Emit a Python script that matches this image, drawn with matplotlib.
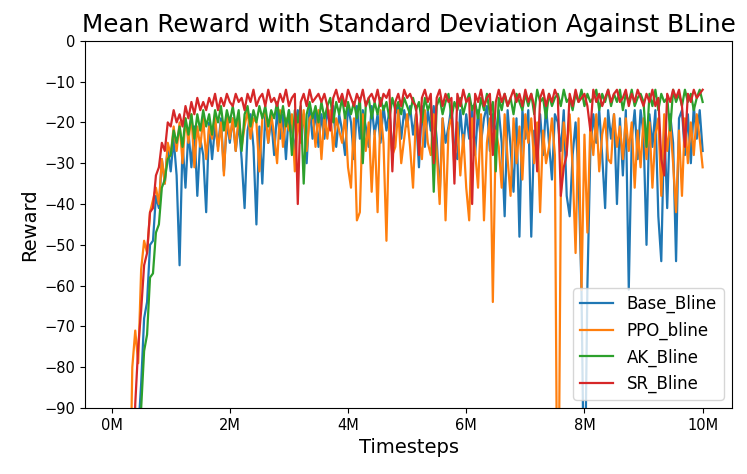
import numpy as np
import matplotlib

matplotlib.use("Agg")
import matplotlib.pyplot as plt  # noqa: E402

# timesteps in millions, one sample every 50k steps
timesteps_m = [round(0.05 * (i + 1), 2) for i in range(200)]

base_bline = [
    -290, -262, -236, -210, -185, -160, -135, -112, -96, -84,
    -68, -64, -50, -49, -38, -41, -29, -35, -26, -32,
    -24, -33, -55, -25, -36, -22, -31, -21, -38, -24,
    -28, -42, -20, -29, -21, -26, -19, -32, -20, -25,
    -19, -27, -20, -29, -41, -22, -18, -26, -45, -21,
    -35, -18, -25, -19, -28, -17, -24, -18, -29, -17,
    -22, -27, -17, -23, -18, -30, -16, -24, -17, -26,
    -18, -24, -17, -21, -16, -26, -18, -22, -28, -16,
    -20, -29, -16, -24, -17, -21, -26, -16, -23, -18,
    -25, -16, -22, -17, -28, -18, -16, -24, -17, -21,
    -16, -23, -18, -31, -16, -26, -17, -22, -16, -24,
    -38, -19, -25, -21, -16, -27, -29, -17, -26, -18,
    -24, -16, -28, -17, -25, -19, -16, -27, -18, -23,
    -17, -25, -43, -17, -26, -37, -19, -48, -17, -24,
    -17, -48, -22, -30, -18, -28, -16, -25, -34, -18,
    -20, -27, -17, -38, -43, -28, -20, -33, -61, -120,
    -60, -27, -18, -25, -17, -28, -41, -17, -24, -18,
    -40, -19, -33, -17, -61, -24, -17, -29, -17, -23,
    -50, -18, -26, -17, -43, -54, -20, -41, -18, -25,
    -54, -19, -17, -28, -18, -30, -16, -24, -17, -27,
]

ppo_bline = [
    -260, -232, -205, -178, -150, -122, -80, -71, -79, -56,
    -49, -52, -42, -39, -36, -40, -29, -35, -25, -28,
    -21, -27, -20, -30, -19, -25, -18, -31, -21, -26,
    -19, -29, -21, -24, -18, -27, -20, -33, -18, -24,
    -19, -27, -18, -26, -21, -17, -24, -19, -20, -32,
    -19, -17, -25, -18, -23, -30, -17, -26, -19, -22,
    -18, -32, -19, -25, -17, -27, -19, -18, -26, -17,
    -29, -18, -24, -17, -27, -19, -22, -25, -18, -31,
    -36, -19, -44, -42, -18, -27, -20, -37, -22, -42,
    -17, -25, -49, -19, -28, -26, -17, -30, -24, -18,
    -26, -36, -18, -24, -29, -17, -25, -28, -18, -27,
    -40, -19, -44, -22, -18, -31, -20, -33, -23, -36,
    -44, -19, -27, -36, -18, -44, -25, -19, -64, -22,
    -26, -36, -18, -29, -38, -19, -30, -21, -34, -18,
    -25, -19, -30, -20, -42, -22, -30, -26, -19, -28,
    -140, -38, -20, -27, -18, -31, -52, -19, -61, -23,
    -47, -20, -28, -18, -32, -23, -19, -29, -30, -18,
    -26, -21, -29, -19, -27, -20, -36, -22, -31, -19,
    -29, -20, -36, -23, -19, -38, -18, -27, -20, -30,
    -42, -22, -38, -19, -30, -20, -28, -18, -24, -31,
]

ak_bline = [
    -300, -272, -245, -218, -190, -162, -136, -115, -99, -90,
    -76, -72, -58, -57, -47, -45, -36, -34, -29, -28,
    -22, -25, -21, -26, -19, -23, -18, -24, -18, -22,
    -17, -21, -18, -23, -17, -20, -16, -22, -17, -20,
    -16, -21, -17, -27, -18, -16, -21, -17, -20, -16,
    -19, -16, -21, -17, -19, -15, -20, -16, -21, -17,
    -28, -17, -20, -16, -35, -18, -15, -19, -16, -20,
    -15, -19, -16, -14, -20, -15, -18, -14, -19, -15,
    -18, -15, -19, -14, -30, -16, -14, -19, -15, -18,
    -14, -17, -15, -19, -14, -17, -15, -18, -14, -16,
    -18, -14, -17, -15, -20, -14, -17, -15, -37, -16,
    -14, -18, -15, -13, -19, -15, -17, -14, -18, -15,
    -13, -17, -15, -19, -14, -17, -13, -18, -15, -32,
    -14, -17, -13, -16, -14, -18, -13, -15, -17, -13,
    -16, -13, -18, -12, -15, -14, -19, -13, -16, -14,
    -13, -16, -12, -15, -14, -17, -13, -15, -12, -16,
    -13, -15, -14, -12, -17, -13, -15, -12, -16, -13,
    -15, -12, -17, -13, -15, -12, -16, -14, -13, -15,
    -26, -13, -16, -12, -17, -13, -15, -14, -22, -12,
    -15, -13, -16, -12, -15, -13, -17, -14, -12, -15,
]

sr_bline = [
    -285, -255, -228, -200, -172, -145, -118, -89, -75, -66,
    -55, -52, -42, -41, -33, -31, -25, -27, -20, -21,
    -17, -20, -18, -21, -16, -19, -15, -18, -14, -17,
    -15, -17, -14, -16, -13, -17, -14, -16, -13, -15,
    -16, -13, -15, -14, -17, -13, -15, -12, -16, -14,
    -13, -16, -12, -15, -14, -16, -13, -15, -12, -16,
    -14, -13, -40, -15, -13, -16, -12, -15, -14, -13,
    -15, -13, -16, -22, -14, -12, -15, -13, -16, -12,
    -14, -16, -13, -15, -12, -16, -14, -13, -15, -12,
    -16, -13, -14, -12, -32, -15, -13, -16, -12, -14,
    -13, -15, -16, -28, -14, -12, -15, -13, -30, -14,
    -12, -16, -13, -15, -14, -35, -13, -16, -12, -15,
    -14, -40, -13, -15, -12, -16, -14, -13, -28, -15,
    -12, -15, -13, -16, -14, -12, -15, -13, -16, -12,
    -15, -13, -16, -32, -14, -12, -16, -13, -15, -12,
    -14, -38, -31, -28, -13, -16, -12, -15, -14, -13,
    -16, -22, -12, -15, -13, -16, -14, -12, -15, -13,
    -12, -15, -14, -12, -16, -13, -15, -12, -14, -16,
    -13, -15, -12, -16, -14, -29, -33, -13, -15, -12,
    -14, -12, -16, -26, -13, -15, -12, -14, -13, -12,
]

series = [
    ("Base_Bline", base_bline, "#1f77b4"),
    ("PPO_bline", ppo_bline, "#ff7f0e"),
    ("AK_Bline", ak_bline, "#2ca02c"),
    ("SR_Bline", sr_bline, "#d62728"),
]

fig = plt.figure(figsize=(7.47, 4.74), dpi=100)
ax = fig.add_axes([0.114, 0.139, 0.866, 0.775])

x = np.array(timesteps_m) * 1e6
for name, vals, color in series:
    ax.plot(x, vals, color=color, lw=1.6, label=name)

ax.set_ylim(-90, 0)
xt = np.arange(0, 10.1e6, 2e6)
ax.set_xticks(xt)
ax.set_xticklabels([f"{int(t / 1e6)}M" for t in xt])
ax.tick_params(labelsize=10.5)
ax.set_xlabel("Timesteps", fontsize=14)
ax.set_ylabel("Reward", fontsize=14)
ax.set_title("Mean Reward with Standard Deviation Against BLine", fontsize=17.8)
ax.legend(loc="lower right", fontsize=12)

fig.savefig("out.png", dpi=100)
